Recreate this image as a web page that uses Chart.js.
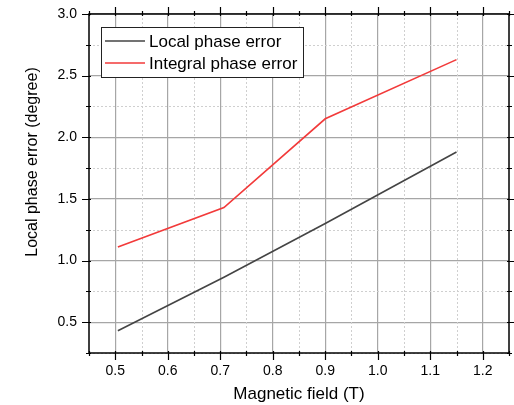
<!DOCTYPE html>
<html>
<head>
<meta charset="utf-8">
<script src="https://cdn.jsdelivr.net/npm/chart.js@4.4.1/dist/chart.umd.min.js"></script>
<style>
  html, body { margin: 0; padding: 0; background: #fff; }
  #wrap { width: 514px; height: 405px; }
</style>
</head>
<body>
<div id="wrap"><canvas id="chart" width="514" height="405"></canvas></div>
<script>
const field = [0.505, 0.707, 0.9, 1.15];
const localErr = [0.43, 0.865, 1.30, 1.88];
const integralErr = [1.11, 1.43, 2.15, 2.63];
const seriesNames = ["Local phase error", "Integral phase error"];
const xTitle = "Magnetic field (T)";
const yTitle = "Local phase error (degree)";

const FONT = "'Liberation Sans', Arial, sans-serif";

// frame, minor dotted grid, ticks on all four sides, legend, y title
const decor = {
  id: "decor",
  beforeDatasetsDraw(chart) {
    const { ctx, chartArea: a, scales } = chart;
    const x = scales.x, y = scales.y;
    ctx.save();
    ctx.strokeStyle = "#cfcfcf";
    ctx.lineWidth = 1;
    ctx.setLineDash([2, 2]);
    for (let v = 0.55; v < 1.25; v += 0.1) {
      const px = Math.round(x.getPixelForValue(v)) + 0.5;
      ctx.beginPath(); ctx.moveTo(px, a.top); ctx.lineTo(px, a.bottom); ctx.stroke();
    }
    for (let v = 0.25; v < 3.0; v += 0.5) {
      const py = Math.round(y.getPixelForValue(v)) + 0.5;
      ctx.beginPath(); ctx.moveTo(a.left, py); ctx.lineTo(a.right, py); ctx.stroke();
    }
    ctx.restore();
  },
  afterDraw(chart) {
    const { ctx, chartArea: a, scales } = chart;
    const x = scales.x, y = scales.y;
    ctx.save();
    ctx.strokeStyle = "#000";
    ctx.lineWidth = 1.5;
    ctx.strokeRect(a.left, a.top, a.right - a.left, a.bottom - a.top);
    ctx.lineWidth = 1.2;
    for (let i = 0; i <= 16; i++) {
      const v = 0.45 + i * 0.05;
      const len = i % 2 === 1 ? 7 : 3;
      const px = Math.round(x.getPixelForValue(v)) + 0.5;
      ctx.beginPath();
      ctx.moveTo(px, a.bottom - 2); ctx.lineTo(px, a.bottom + len);
      ctx.moveTo(px, a.top + 2); ctx.lineTo(px, a.top - len);
      ctx.stroke();
    }
    for (let i = 0; i <= 11; i++) {
      const v = 0.25 + i * 0.25;
      const len = i % 2 === 1 ? 7 : 3;
      const py = Math.round(y.getPixelForValue(v)) + 0.5;
      ctx.beginPath();
      ctx.moveTo(a.left + 2, py); ctx.lineTo(a.left - len, py);
      ctx.moveTo(a.right - 2, py); ctx.lineTo(a.right + len, py);
      ctx.stroke();
    }

    // legend
    const lx = 101, ly = 27, lw = 202, lh = 50;
    ctx.fillStyle = "#fff";
    ctx.fillRect(lx, ly, lw, lh);
    ctx.strokeStyle = "#222";
    ctx.lineWidth = 1;
    ctx.strokeRect(lx + 0.5, ly + 0.5, lw, lh);
    ctx.font = "17px " + FONT;
    ctx.textBaseline = "middle";
    chart.data.datasets.forEach((ds, i) => {
      const cy = ly + 14 + i * 22;
      ctx.strokeStyle = ds.borderColor;
      ctx.lineWidth = 1.5;
      ctx.beginPath(); ctx.moveTo(lx + 4, cy); ctx.lineTo(lx + 44, cy); ctx.stroke();
      ctx.fillStyle = "#000";
      ctx.fillText(ds.label, lx + 48, cy + 1);
    });

    // y title
    ctx.translate(33, 162);
    ctx.rotate(-Math.PI / 2);
    ctx.textAlign = "center";
    ctx.font = "16px " + FONT;
    ctx.fillText(yTitle, 0, 0);
    ctx.restore();
  }
};

new Chart(document.getElementById("chart"), {
  type: "line",
  data: {
    datasets: [
      {
        label: seriesNames[0],
        data: field.map((f, i) => ({ x: f, y: localErr[i] })),
        borderColor: "#444444",
        borderWidth: 1.6,
        pointRadius: 0,
        tension: 0,
      },
      {
        label: seriesNames[1],
        data: field.map((f, i) => ({ x: f, y: integralErr[i] })),
        borderColor: "#f23a3a",
        borderWidth: 1.6,
        pointRadius: 0,
        tension: 0,
      },
    ],
  },
  options: {
    responsive: false,
    animation: false,
    layout: { padding: { top: 14, right: 5, left: 0, bottom: 0 } },
    plugins: { legend: { display: false }, tooltip: { enabled: false } },
    scales: {
      x: {
        type: "linear",
        min: 0.45,
        max: 1.25,
        afterBuildTicks: (s) => {
          s.ticks = [0.5, 0.6, 0.7, 0.8, 0.9, 1.0, 1.1, 1.2].map((v) => ({ value: v }));
        },
        afterFit: (s) => { s.height = 52; s.paddingLeft = 0; s.paddingRight = 0; },
        ticks: { font: { family: FONT, size: 14 }, color: "#000", padding: 10, callback: (v) => v.toFixed(1) },
        grid: { color: "#a6a6a6", lineWidth: 1.2, drawTicks: false },
        border: { display: false },
        title: { display: true, text: xTitle, font: { family: FONT, size: 17 }, color: "#000", padding: { top: 3, bottom: 0 } },
      },
      y: {
        type: "linear",
        min: 0.25,
        max: 3.0,
        afterBuildTicks: (s) => {
          s.ticks = [0.5, 1.0, 1.5, 2.0, 2.5, 3.0].map((v) => ({ value: v }));
        },
        afterFit: (s) => { s.width = 89; s.paddingTop = 0; s.paddingBottom = 0; },
        ticks: { font: { family: FONT, size: 14 }, color: "#000", padding: 12, callback: (v) => v.toFixed(1) },
        grid: { color: "#a6a6a6", lineWidth: 1.2, drawTicks: false },
        border: { display: false },
      },
    },
  },
  plugins: [decor],
});
</script>
</body>
</html>
